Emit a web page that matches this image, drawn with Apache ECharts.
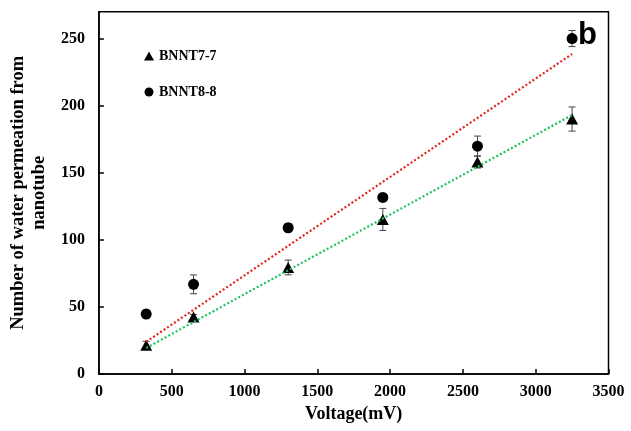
<!DOCTYPE html>
<html>
<head>
<meta charset="utf-8">
<script src="https://cdn.jsdelivr.net/npm/echarts@6/dist/echarts.min.js"></script>
<style>
  html, body { margin: 0; padding: 0; background: #fff; }
  #chart { width: 631px; height: 431px; }
</style>
</head>
<body>
<div id="chart"></div>
<script>
// values
const voltage = [325, 650, 1300, 1950, 2600, 3250]
const bnnt77 = [21.4, 42.4, 79.4, 115.2, 158, 190]
const bnnt88 = [44.7, 66.8, 109, 131.6, 169.8, 250]
const err77 = [3, 2, 5.5, 8.2, 4.5, 9]
const err88 = [3, 7, 3, 3, 7.5, 6]
// dotted trend lines, end points
const fitX = [325, 3250]
const fit77 = [19.4, 193]
const fit88 = [24, 238.5]
const xTicks = [0, 3500, 500]
const yTicks = [0, 270, 50]

const serif = 'Liberation Serif'
const chart = echarts.init(document.getElementById('chart'))

function pairs(xs, ys) {
  return xs.map((x, i) => [x, ys[i]])
}
function withErr(xs, ys, es) {
  return xs.map((x, i) => [x, ys[i], es[i]])
}

// error bars with caps
function errorBars(params, api) {
  const x = api.value(0)
  const y = api.value(1)
  const e = api.value(2)
  const top = api.coord([x, y + e])
  const bot = api.coord([x, y - e])
  const cap = 3.5
  const style = { stroke: '#444', lineWidth: 1 }
  return {
    type: 'group',
    children: [
      { type: 'line', shape: { x1: top[0], y1: top[1], x2: bot[0], y2: bot[1] }, style: style },
      { type: 'line', shape: { x1: top[0] - cap, y1: top[1], x2: top[0] + cap, y2: top[1] }, style: style },
      { type: 'line', shape: { x1: bot[0] - cap, y1: bot[1], x2: bot[0] + cap, y2: bot[1] }, style: style }
    ]
  }
}

chart.setOption({
  animation: false,
  backgroundColor: '#fff',
  grid: {
    left: 87.6,
    right: 22.5,
    top: 11.7,
    bottom: 57,
    show: true,
    borderColor: '#000',
    borderWidth: 1.5
  },
  legend: {
    data: ['BNNT7-7', 'BNNT8-8'],
    orient: 'vertical',
    left: 144,
    top: 49,
    padding: 0,
    itemWidth: 10,
    itemHeight: 9,
    itemGap: 22,
    textStyle: { fontFamily: serif, fontWeight: 'bold', fontSize: 14, color: '#000' }
  },
  graphic: [
    {
      type: 'text',
      left: 578,
      top: 20,
      style: { text: 'b', font: 'bold 31px "Liberation Sans"', fill: '#000' }
    }
  ],
  xAxis: {
    type: 'value',
    min: xTicks[0],
    max: xTicks[1],
    interval: xTicks[2],
    name: 'Voltage(mV)',
    nameLocation: 'middle',
    nameGap: 30,
    nameTextStyle: { fontFamily: serif, fontWeight: 'bold', fontSize: 18, color: '#000' },
    axisLine: { lineStyle: { color: '#000', width: 1.5 } },
    axisTick: { inside: true, length: 5, lineStyle: { color: '#000', width: 1.5 } },
    axisLabel: {
      margin: 10,
      formatter: v => String(v),
      fontFamily: serif,
      fontWeight: 'bold',
      fontSize: 16,
      color: '#000'
    },
    splitLine: { show: false }
  },
  yAxis: {
    type: 'value',
    min: yTicks[0],
    max: yTicks[1],
    interval: yTicks[2],
    name: 'Number of water permeation from\nnanotube',
    nameLocation: 'middle',
    nameGap: 45,
    nameTextStyle: { fontFamily: serif, fontWeight: 'bold', fontSize: 18.5, color: '#000', lineHeight: 21 },
    axisLine: { lineStyle: { color: '#000', width: 1.5 } },
    axisTick: { inside: true, length: 5, lineStyle: { color: '#000', width: 1.5 } },
    axisLabel: {
      margin: 14,
      showMaxLabel: false,
      formatter: v => String(v),
      fontFamily: serif,
      fontWeight: 'bold',
      fontSize: 16,
      color: '#000'
    },
    splitLine: { show: false }
  },
  series: [
    {
      name: 'err77',
      type: 'custom',
      renderItem: errorBars,
      data: withErr(voltage, bnnt77, err77),
      z: 1
    },
    {
      name: 'err88',
      type: 'custom',
      renderItem: errorBars,
      data: withErr(voltage, bnnt88, err88),
      z: 1
    },
    {
      name: 'BNNT7-7',
      type: 'scatter',
      symbol: 'triangle',
      symbolSize: [12, 11],
      itemStyle: { color: '#000', opacity: 1 },
      data: pairs(voltage, bnnt77),
      z: 2
    },
    {
      name: 'BNNT8-8',
      type: 'scatter',
      symbol: 'circle',
      symbolSize: 11,
      itemStyle: { color: '#000', opacity: 1 },
      data: pairs(voltage, bnnt88),
      z: 2
    },
    {
      name: 'fit77',
      type: 'line',
      showSymbol: false,
      symbol: 'none',
      lineStyle: { color: '#1ec25c', width: 2.2, type: [2, 2.2] },
      data: pairs(fitX, fit77),
      z: 3
    },
    {
      name: 'fit88',
      type: 'line',
      showSymbol: false,
      symbol: 'none',
      lineStyle: { color: '#e3231f', width: 2.2, type: [2, 2.2] },
      data: pairs(fitX, fit88),
      z: 3
    }
  ]
})
window.addEventListener('resize', () => chart.resize())
</script>
</body>
</html>
